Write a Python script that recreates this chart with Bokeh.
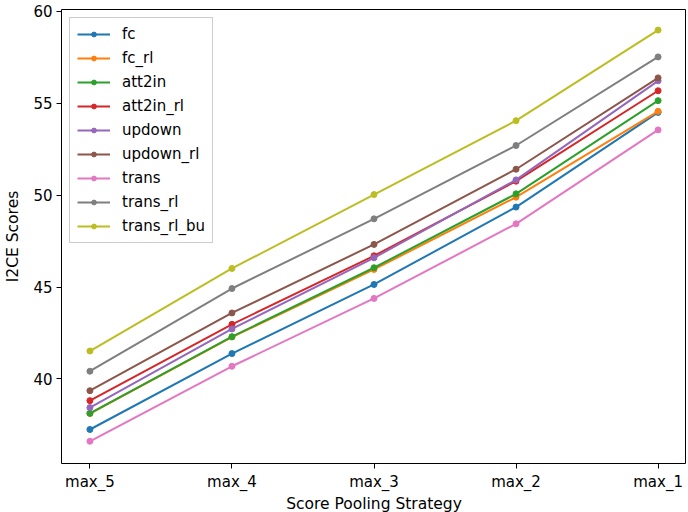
from bokeh.plotting import figure
from bokeh.models import Range1d, FixedTicker, Legend, LegendItem
from bokeh.embed import file_html
from bokeh.resources import INLINE

strategies = ["max_5", "max_4", "max_3", "max_2", "max_1"]
series_names = ["fc", "fc_rl", "att2in", "att2in_rl", "updown", "updown_rl", "trans", "trans_rl", "trans_rl_bu"]
fc = [37.25, 41.38, 45.14, 49.35, 54.50]
fc_rl = [38.12, 42.28, 45.96, 49.89, 54.56]
att2in = [38.13, 42.30, 46.05, 50.07, 55.14]
att2in_rl = [38.82, 42.97, 46.70, 50.76, 55.68]
updown = [38.44, 42.72, 46.59, 50.83, 56.22]
updown_rl = [39.36, 43.59, 47.32, 51.41, 56.38]
trans = [36.61, 40.69, 44.38, 48.44, 53.55]
trans_rl = [40.42, 44.92, 48.71, 52.70, 57.52]
trans_rl_bu = [41.52, 46.01, 50.03, 54.05, 58.98]
series_values = [fc, fc_rl, att2in, att2in_rl, updown, updown_rl, trans, trans_rl, trans_rl_bu]
colors = ["#1f77b4", "#ff7f0e", "#2ca02c", "#d62728", "#9467bd", "#8c564b", "#e377c2", "#7f7f7f", "#bcbd22"]
y_ticks = [40, 45, 50, 55, 60]

FONT = "DejaVu Sans"

p = figure(width=686, height=515, output_backend="svg", toolbar_location=None,
           x_range=Range1d(-0.2, 4.2), y_range=Range1d(35.4, 60.1),
           min_border_left=61, min_border_right=0, min_border_top=9, min_border_bottom=42)
p.grid.visible = False
p.outline_line_color = "black"
p.outline_line_width = 1

xs = list(range(len(strategies)))
items = []
for name, vals, c in zip(series_names, series_values, colors):
    r1 = p.line(xs, vals, line_color=c, line_width=2)
    r2 = p.scatter(xs, vals, size=6, fill_color=c, line_color=c)
    items.append(LegendItem(label=name, renderers=[r1, r2]))

p.xaxis.ticker = FixedTicker(ticks=xs)
p.xaxis.major_label_overrides = {i: s for i, s in enumerate(strategies)}
p.yaxis.ticker = FixedTicker(ticks=y_ticks)
for ax in (p.xaxis[0], p.yaxis[0]):
    ax.minor_tick_line_color = None
    ax.major_tick_out = 5
    ax.major_tick_in = 0
    ax.major_label_text_font = FONT
    ax.major_label_text_font_size = "15px"
    ax.major_label_text_color = "black"
    ax.major_label_standoff = 4
    ax.axis_label_text_font = FONT
    ax.axis_label_text_font_size = "15.5px"
    ax.axis_label_text_font_style = "normal"
    ax.axis_label_text_color = "black"
    ax.axis_line_color = None
p.xaxis.axis_label = "Score Pooling Strategy"
p.yaxis.axis_label = "I2CE Scores"
p.yaxis.axis_label_standoff = 8
p.xaxis.axis_label_standoff = 1

legend = Legend(items=items, location="top_left", label_text_font=FONT,
                label_text_font_size="15px", label_text_color="black",
                spacing=6, glyph_height=12, glyph_width=33,
                padding=7, margin=8, border_line_color="#cccccc", border_line_alpha=1,
                background_fill_alpha=0.8, label_standoff=12, label_height=17)
p.add_layout(legend)

open("out.html", "w").write(file_html(p, INLINE))
